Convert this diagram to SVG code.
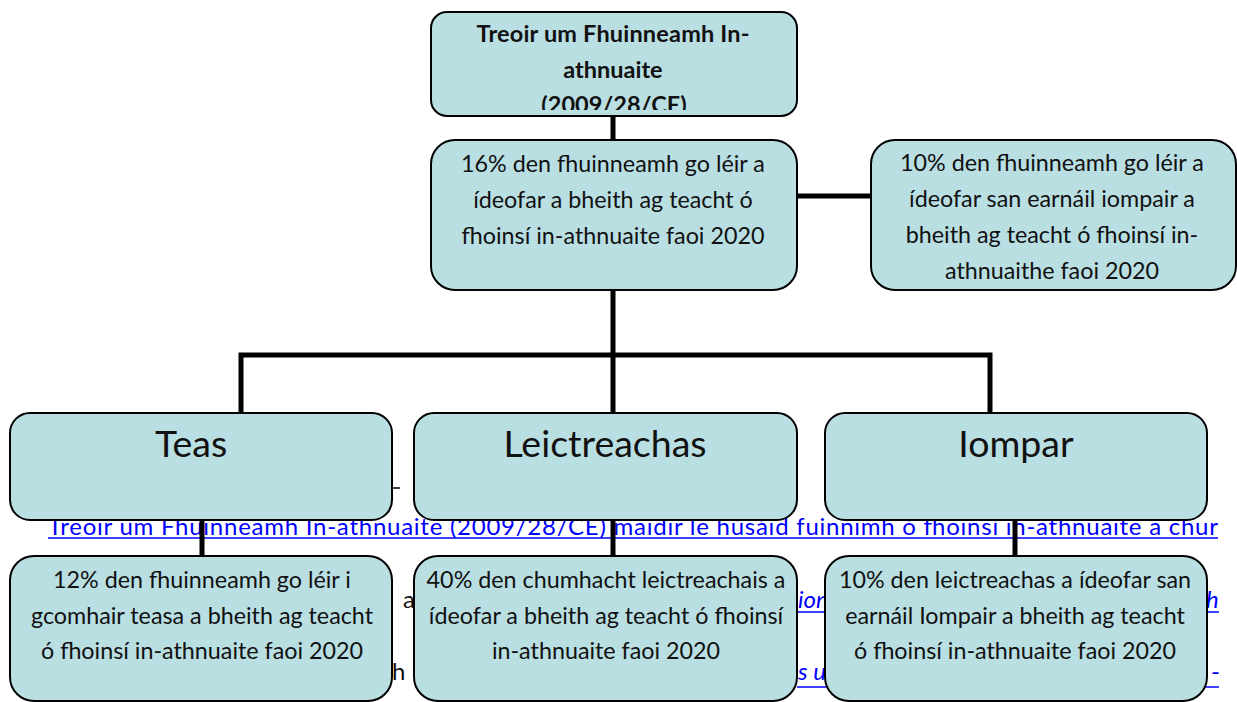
<svg xmlns="http://www.w3.org/2000/svg" width="1237" height="702" viewBox="0 0 1237 702">
<style>
.box{fill:#b9dfe3;stroke:#000;stroke-width:2}
.t{font-family:Lato,"Open Sans",sans-serif;font-size:23.3px;fill:#111;text-anchor:middle}
.tb{font-family:Lato,"Open Sans",sans-serif;font-size:23.5px;font-weight:bold;fill:#111;text-anchor:middle}
.h{font-family:Lato,"Open Sans",sans-serif;font-size:37.5px;fill:#111;text-anchor:middle}
.bg{font-family:Lato,"Open Sans",sans-serif;font-size:24px;fill:#0000ff}
.bgi{font-family:Lato,"Open Sans",sans-serif;font-size:24px;fill:#0000ff;font-style:italic}
.bk{font-family:Lato,"Open Sans",sans-serif;font-size:24px;fill:#111}
.ul{stroke:#0000ff;stroke-width:1.5}
.c{stroke:#000;fill:none;stroke-width:5}
</style>
<defs>
<clipPath id="topclip"><rect x="430" y="12" width="368" height="98"/></clipPath>
</defs>
<g id="background-text">
<text class="bg" x="48" y="535" textLength="1170" lengthAdjust="spacing">Treoir um Fhuinneamh In-athnuaite (2009/28/CE) maidir le húsáid fuinnimh ó fhoinsí in-athnuaite a chur</text>
<line class="ul" x1="48" y1="538" x2="1218" y2="538"/>
<text class="bk" x="403" y="608">a</text>
<text class="bgi" x="798" y="608">ion</text>
<line class="ul" x1="797" y1="612" x2="826" y2="612"/>
<text class="bgi" x="1206" y="608">h</text>
<line class="ul" x1="1206" y1="612" x2="1219" y2="612"/>
<text class="bk" x="392" y="680">h</text>
<text class="bgi" x="798" y="680">s u</text>
<line class="ul" x1="797" y1="687" x2="826" y2="687"/>
<text class="bg" x="1211" y="680">-</text>
<line class="ul" x1="1206" y1="687" x2="1219" y2="687"/>
<line x1="392" y1="488" x2="400" y2="488" stroke="#000" stroke-width="1.5"/>
</g>
<g id="connectors">
<line class="c" x1="613" y1="115" x2="613" y2="140"/>
<line class="c" x1="797" y1="196" x2="871" y2="196"/>
<line class="c" x1="613" y1="290" x2="613" y2="413"/>
<polyline class="c" points="241,413 241,355 990,355 990,413"/>
<line class="c" x1="202" y1="520" x2="202" y2="556"/>
<line class="c" x1="613" y1="520" x2="613" y2="556"/>
<line class="c" x1="1015" y1="520" x2="1015" y2="556"/>
</g>
<g id="node-directive">
<rect class="box" x="431" y="12" width="366" height="104" rx="16"/>
<g clip-path="url(#topclip)">
<text class="tb" x="613" y="42" textLength="273">Treoir um Fhuinneamh In-</text>
<text class="tb" x="613" y="78">athnuaite</text>
<text class="tb" x="614" y="113">(2009/28/CE)</text>
</g>
</g>
<g id="node-16pc">
<rect class="box" x="431" y="140" width="366" height="150" rx="24"/>
<text class="t" x="613" y="172">16% den fhuinneamh go léir a</text>
<text class="t" x="613" y="208">ídeofar a bheith ag teacht ó</text>
<text class="t" x="613" y="244">fhoinsí in-athnuaite faoi 2020</text>
</g>
<g id="node-10pc-transport">
<rect class="box" x="871" y="140" width="365" height="150" rx="24"/>
<text class="t" x="1052" y="171">10% den fhuinneamh go léir a</text>
<text class="t" x="1052" y="207">ídeofar san earnáil iompair a</text>
<text class="t" x="1052" y="243">bheith ag teacht ó fhoinsí in-</text>
<text class="t" x="1052" y="279">athnuaithe faoi 2020</text>
</g>
<g id="node-teas">
<rect class="box" x="10" y="413" width="382" height="107" rx="20"/>
<text class="h" x="191" y="457">Teas</text>
</g>
<g id="node-leictreachas">
<rect class="box" x="414" y="413" width="383" height="107" rx="20"/>
<text class="h" x="605" y="457">Leictreachas</text>
</g>
<g id="node-iompar">
<rect class="box" x="825" y="413" width="382" height="107" rx="20"/>
<text class="h" x="1016" y="457">Iompar</text>
</g>
<g id="node-teas-target">
<rect class="box" x="10" y="556" width="382" height="145" rx="24"/>
<text class="t" x="202" y="588">12% den fhuinneamh go léir i</text>
<text class="t" x="202" y="624">gcomhair teasa a bheith ag teacht</text>
<text class="t" x="202" y="659">ó fhoinsí in-athnuaite faoi 2020</text>
</g>
<g id="node-leictreachas-target">
<rect class="box" x="414" y="556" width="383" height="145" rx="24"/>
<text class="t" x="606" y="588">40% den chumhacht leictreachais a</text>
<text class="t" x="606" y="624">ídeofar a bheith ag teacht ó fhoinsí</text>
<text class="t" x="606" y="659">in-athnuaite faoi 2020</text>
</g>
<g id="node-iompar-target">
<rect class="box" x="825" y="556" width="382" height="145" rx="24"/>
<text class="t" x="1015" y="588">10% den leictreachas a ídeofar san</text>
<text class="t" x="1015" y="624">earnáil Iompair a bheith ag teacht</text>
<text class="t" x="1015" y="659">ó fhoinsí in-athnuaite faoi 2020</text>
</g>
</svg>
